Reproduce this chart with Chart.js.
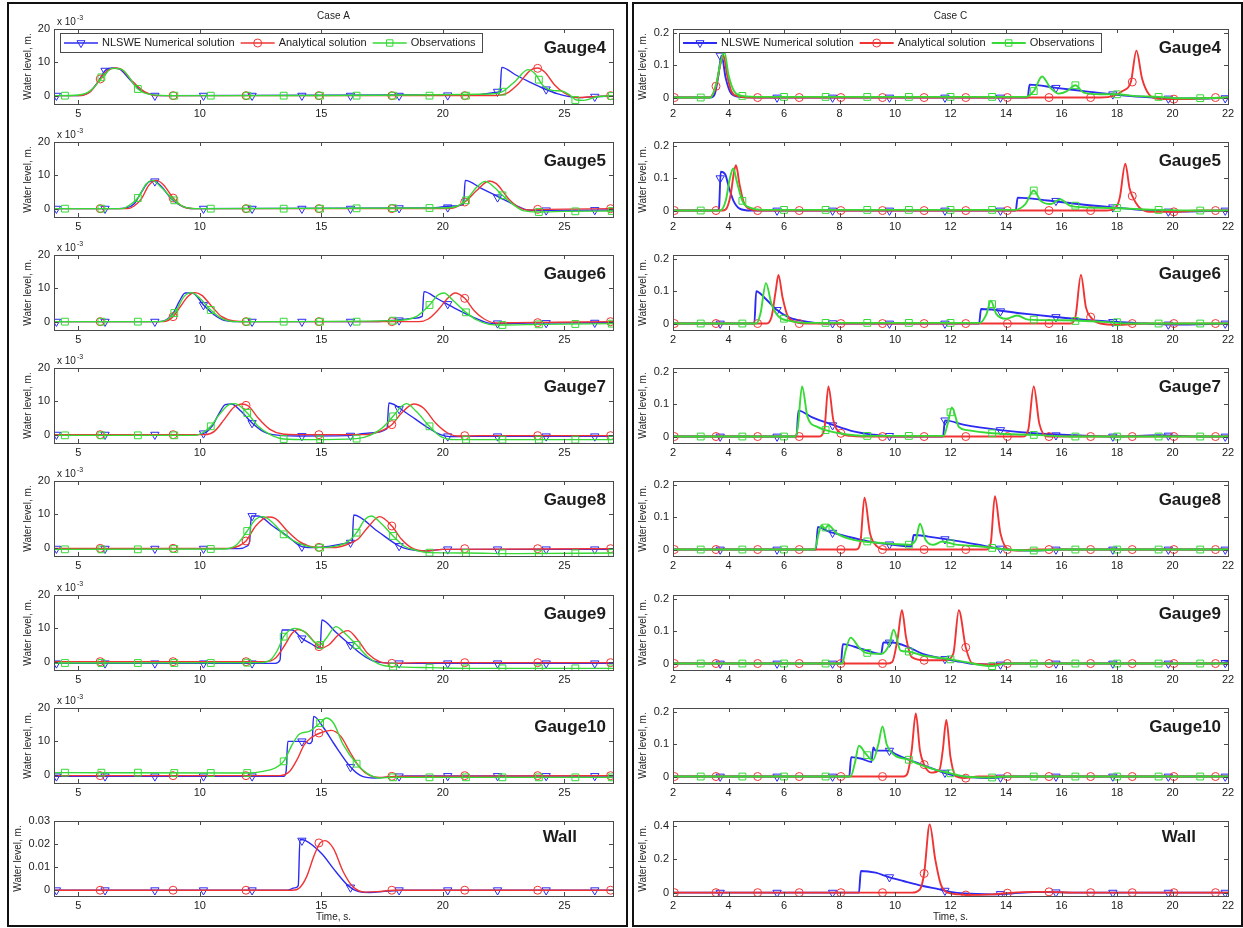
<!DOCTYPE html>
<html>
<head>
<meta charset="utf-8">
<script src="https://cdn.jsdelivr.net/npm/chart.js@4.4.1/dist/chart.umd.min.js"></script>
<style>
  html, body { margin: 0; padding: 0; background: #fff; }
  body { width: 1243px; height: 928px; position: relative; overflow: hidden; }
  .panel { position: absolute; border: 2px solid #111; box-sizing: border-box; }
  canvas { position: absolute; }
</style>
</head>
<body>
<div class="panel" style="left:7px;top:2px;width:621px;height:925px"></div>
<div class="panel" style="left:632px;top:2px;width:611px;height:925px"></div>
<script>
// ---------- axis ticks ----------
const xTicksA = [5, 10, 15, 20, 25];
const xTicksC = [2, 4, 6, 8, 10, 12, 14, 16, 18, 20, 22];
const yTicksA = [0, 10, 20];            // x 10^-3 m
const yTicksAWall = [0, 0.01, 0.02, 0.03];
const yTicksC = [0, 0.1, 0.2];
const yTicksCWall = [0, 0.2, 0.4];

// ---------- marker times (s) ----------
const mkA_num = [4.1, 6.1, 8.15, 10.15, 12.15, 14.2, 16.2, 18.2, 20.2, 22.25, 24.25, 26.25];
const mkA_ana = [5.9, 8.9, 11.9, 14.9, 17.9, 20.9, 23.9, 26.9];
const mkA_obs = [4.45, 5.95, 7.45, 8.95, 10.45, 11.95, 13.45, 14.95, 16.45, 17.95, 19.45, 20.95, 22.45, 23.95, 25.45, 26.95];
const mkC_num = [3.7, 5.75, 7.75, 9.8, 11.8, 13.8, 15.8, 17.85, 19.85, 21.9];
const mkC_ana = [2.05, 3.55, 5.05, 6.55, 8.05, 9.55, 11.05, 12.55, 14.05, 15.55, 17.05, 18.55, 20.05, 21.55];
const mkC_obs = [3.0, 4.5, 6.0, 7.5, 9.0, 10.5, 12.0, 13.5, 15.0, 16.5, 18.0, 19.5, 21.0];

// ---------- Case A (gauges in 10^-3 m, wall in m) ----------
const A4_num = [[4,0],[5,0],[5.4,0.8],[5.8,4],[6.1,7.5],[6.4,8.3],[6.7,8],[7.1,5],[7.5,2],[8,0.3],[8.6,0],[21.5,0.3],[22.2,1],[22.35,1.3],[22.42,8.5],[23,6.2],[23.6,4],[24.2,2],[24.7,0.6],[25.2,-0.3],[25.6,-0.6],[26.2,-0.3],[27,-0.1]];
const A4_ana = [[4,0],[5,0],[5.5,1.2],[5.9,5],[6.2,7.5],[6.5,8.3],[6.8,7.8],[7.2,4.5],[7.7,1.3],[8.3,0],[22,0],[22.6,0.6],[23.1,3.5],[23.6,7.6],[23.9,8.3],[24.2,7],[24.6,3.2],[25,0.8],[25.5,-0.6],[26,-0.4],[27,0]];
const A4_obs = [[4,0],[5,0.2],[5.5,1.5],[6,5.5],[6.4,8.2],[6.8,7.8],[7.45,2],[8,0.3],[9,0],[22,0.5],[22.45,1.2],[23,4.5],[23.5,7.8],[23.8,6.5],[24.1,3.2],[24.5,1.6],[24.9,1.4],[25.2,0.3],[25.5,-1.3],[25.8,-1.4],[26.3,-0.4],[27,0]];
const A4_num_mk = [0, 7.5, 0, 0, 0, 0, 0, 0, 0.1, 1.2, 1.9, -0.3];
const A4_ana_mk = [5, 0, 0, 0, 0, 0, 8.2, 0];
const A4_obs_mk = [0, 5.5, 2, 0, 0, 0, 0, 0, 0, 0, 0, 0, 1.2, 4.8, -1.3, -0.1];

const A5_num = [[4,0],[6.5,0],[7,0.3],[7.3,1.5],[7.6,5],[7.9,8],[8.1,8.3],[8.4,6.8],[8.8,3.2],[9.2,1],[9.7,0],[19.5,0.2],[20.4,0.8],[20.85,1.3],[20.92,8.5],[21.6,6],[22.3,3.5],[23,1],[23.5,-0.4],[24.2,-0.5],[27,-0.4]];
const A5_ana = [[4,0],[7,0],[7.3,0.8],[7.6,3],[7.9,7],[8.2,8.5],[8.5,7.2],[8.9,3.2],[9.3,0.6],[9.8,0],[20.3,0],[20.9,2],[21.4,5.5],[21.9,8.3],[22.2,7.5],[22.7,3],[23.1,0.5],[23.5,-0.4],[24.3,-0.2],[27,0]];
const A5_obs = [[4,0],[6.8,0],[7.1,1],[7.45,3.2],[7.8,7.5],[8.05,8.5],[8.4,6.5],[8.95,2.5],[9.4,0.4],[10,0],[20,0.2],[20.6,0.8],[20.95,2.5],[21.4,6.5],[21.75,8.2],[22.1,6.5],[22.45,4],[22.9,1.2],[23.3,-0.6],[23.95,-1],[25,-0.8],[27,-0.7]];
const A5_num_mk = [0, 0, 8.2, 0, 0, 0, 0, 0.15, 0.4, 3.4, -0.5, -0.4];
const A5_ana_mk = [0, 3.2, 0, 0, 0, 2, -0.2, 0];
const A5_obs_mk = [0, 0, 3.2, 2.5, 0, 0, 0, 0, 0.1, 0.15, 0.2, 2.5, 4, -1, -0.8, -0.7];

const A6_num = [[4,0],[8.2,0],[8.6,0.5],[8.9,2.5],[9.15,6],[9.4,8.6],[9.7,8.6],[10.15,5],[10.6,2],[11,0.4],[11.6,0],[17,0],[18,0.4],[18.8,1],[19.15,1.6],[19.22,9],[19.8,6.8],[20.5,4],[21.2,1.5],[21.8,-0.3],[22.3,-0.6],[23.5,-0.4],[27,-0.3]];
const A6_ana = [[4,0],[8.5,0],[8.9,1.5],[9.2,4.5],[9.5,7.5],[9.8,8.7],[10.1,7.8],[10.5,4.5],[10.9,1.5],[11.4,0.2],[12,0],[19,0],[19.4,0.8],[19.8,3.5],[20.2,7],[20.5,8.6],[20.9,7],[21.3,3.2],[21.7,0.8],[22.2,-0.4],[23,-0.3],[27,0]];
const A6_obs = [[4,0],[8.3,0],[8.7,0.8],[9.0,3],[9.35,7.5],[9.65,8.7],[10,7],[10.45,3.5],[10.9,1],[11.5,0],[18,0.3],[18.9,1.5],[19.45,5],[19.8,8],[20.05,8.6],[20.4,6.5],[20.95,2.8],[21.4,0.5],[21.9,-0.8],[22.45,-1],[24,-0.8],[27,-0.6]];
const A6_num_mk = [0, 0, 0, 5, 0, 0, 0, 0.4, 5.3, -0.5, -0.4, -0.3];
const A6_ana_mk = [0, 1.5, 0, 0, 0, 7, -0.3, 0];
const A6_obs_mk = [0, 0, 0, 2.6, 3.5, 0, 0, 0, 0, 0.3, 5, 2.8, -1, -0.8, -0.7, -0.6];

const A7_num = [[4,0],[9.8,0],[10.2,0.5],[10.5,2.5],[10.8,6.5],[11.05,9],[11.3,9.2],[11.7,7],[12.15,3.5],[12.6,1],[13,0],[14,-0.4],[16,-0.3],[17,0.5],[17.7,1.8],[17.78,9.5],[18.5,6.5],[19.3,2.5],[19.9,0],[20.3,-0.6],[21,-0.5],[27,-0.5]];
const A7_ana = [[4,0],[10.2,0],[10.6,1],[11,4.5],[11.4,8.2],[11.7,9.2],[12.0,8.6],[12.4,5],[12.9,1.5],[13.4,0.2],[14,0],[16.8,0],[17.4,1],[17.9,3],[18.3,6.5],[18.8,9.2],[19.2,8],[19.7,3.5],[20.2,0.5],[20.6,-0.4],[21.5,-0.3],[27,-0.3]];
const A7_obs = [[4,-0.2],[9.8,-0.2],[10.1,0.5],[10.45,2.5],[10.8,6],[11.2,9],[11.45,9.3],[11.95,6.5],[12.4,2.5],[12.9,0],[13.45,-1.3],[14.5,-1.5],[16.45,-1.2],[17,-0.2],[17.5,2],[17.95,5.5],[18.3,8.5],[18.5,9.3],[18.9,7],[19.45,2.5],[19.9,-0.5],[20.5,-1.5],[22,-1.5],[27,-1.5]];
const A7_num_mk = [0, 0, 0, 0.4, 3.5, -0.4, -0.3, 7.7, -0.5, -0.5, -0.5, -0.5];
const A7_ana_mk = [0, 0, 8.8, 0, 3, -0.3, -0.3, -0.3];
const A7_obs_mk = [-0.2, -0.2, -0.2, -0.2, 2.5, 6.5, -1.3, -1.4, -1.2, 5.5, 2.5, -1.5, -1.5, -1.5, -1.5, -1.5];

const A8_num = [[4,-0.3],[11.6,-0.3],[11.95,0.5],[12.05,2],[12.12,9.5],[12.4,9.5],[13,6.5],[13.6,3.5],[14.2,0.3],[14.6,0],[15.3,0.4],[16.2,1.5],[16.27,1.8],[16.33,9.8],[17.3,5],[18.2,0.5],[18.6,-0.5],[19.3,-1],[20,-0.5],[27,-0.5]];
const A8_ana = [[4,-0.2],[11.2,-0.2],[11.6,0.5],[11.9,2],[12.3,6.5],[12.8,9.2],[13.1,8.8],[13.6,5],[14.1,1.8],[14.6,0.3],[15.5,0],[16,0.8],[16.5,2.5],[16.9,6],[17.4,9.3],[17.9,6.5],[18.3,2.5],[18.7,0],[19.3,-1],[20,-0.5],[27,-0.3]];
const A8_obs = [[4,-0.5],[11,-0.4],[11.5,0.8],[11.95,5],[12.3,8.5],[12.6,9.3],[13,7.5],[13.45,4],[14,1.5],[14.5,0.3],[15,0],[15.7,0.6],[16.1,1.8],[16.45,4.5],[16.8,8.5],[17.05,9.5],[17.5,7],[17.95,3.5],[18.4,0.5],[18.9,-0.8],[19.45,-1.5],[21,-1.6],[23,-1.8],[27,-1.6]];
const A8_num_mk = [-0.3, -0.3, -0.3, -0.3, 9.5, 0.3, 1.5, 0.5, -0.5, -0.5, -0.5, -0.5];
const A8_ana_mk = [-0.2, -0.2, 2, 0.1, 6.5, -0.3, -0.3, -0.3];
const A8_obs_mk = [-0.5, -0.5, -0.5, -0.4, -0.4, 5, 4, 0, 4.5, 3.5, -1.5, -1.6, -1.7, -1.8, -1.7, -1.6];

const A9_num = [[4,-0.5],[13.1,-0.5],[13.3,0.5],[13.38,9.5],[13.8,9.5],[14.2,7],[14.6,5.3],[14.95,4],[15.02,12.5],[15.6,8.8],[16.2,5],[16.7,2],[17.1,0.3],[17.5,-0.3],[18.2,-0.5],[27,-0.5]];
const A9_ana = [[4,0],[12.7,0],[13.1,1],[13.5,5],[13.8,8.5],[14.05,9.6],[14.35,8.8],[14.7,6],[15.0,4.2],[15.3,5],[15.7,8],[16.1,9.3],[16.5,6.5],[16.9,2.5],[17.4,0],[17.9,-0.5],[19,-0.3],[27,-0.3]];
const A9_obs = [[4,-0.4],[12.5,-0.3],[12.9,0.5],[13.2,3.5],[13.45,7.5],[13.9,10],[14.3,9],[14.7,6],[14.95,5],[15.2,7],[15.6,10.5],[15.9,9],[16.45,5],[16.9,1.5],[17.4,-0.8],[17.95,-1.5],[19.5,-1.8],[21,-2],[27,-2]];
const A9_num_mk = [-0.5, -0.5, -0.5, -0.5, -0.5, 7, 5, -0.5, -0.5, -0.5, -0.5, -0.5];
const A9_ana_mk = [0, 0, 0, 4.5, -0.5, -0.3, -0.3, -0.3];
const A9_obs_mk = [-0.4, -0.4, -0.4, -0.4, -0.4, -0.3, 7.5, 5, 5, -1.5, -1.8, -2, -2, -2, -2, -2];

const A10_num = [[4,-0.5],[13.45,-0.5],[13.55,1],[13.62,10],[14.3,10],[14.5,9.3],[14.62,10],[14.68,17.5],[15.1,14],[15.5,9.5],[16.2,2.3],[16.6,-0.2],[17.2,-1],[17.8,-0.7],[18.5,-0.4],[27,-0.4]];
const A10_ana = [[4,-0.3],[13.3,-0.3],[13.7,1],[14.0,4.5],[14.3,9],[14.6,11.2],[14.95,12.5],[15.4,13.3],[15.8,11.5],[16.2,6.5],[16.6,2],[17.0,-0.3],[17.4,-0.8],[18,-0.5],[27,-0.3]];
const A10_obs = [[4,0.6],[12,0.5],[12.6,1],[13.1,2],[13.45,4],[13.8,9],[14.1,12.2],[14.5,13],[14.95,15.5],[15.2,17],[15.5,15.5],[15.9,9],[16.45,3.3],[16.9,0.3],[17.4,-1],[18,-0.8],[27,-0.8]];
const A10_num_mk = [-0.5, -0.5, -0.5, -0.5, -0.5, 10, 2.3, -0.5, -0.4, -0.4, -0.4, -0.4];
const A10_ana_mk = [-0.3, -0.3, -0.3, 12.5, -0.5, -0.3, -0.3, -0.3];
const A10_obs_mk = [0.6, 0.6, 0.6, 0.5, 0.5, 0.5, 4, 15.5, 3.3, -0.8, -0.8, -0.8, -0.8, -0.8, -0.8, -0.8];

const AW_num = [[4,0],[13.6,0],[13.9,0.001],[14.05,0.002],[14.12,0.022],[14.35,0.0215],[15,0.016],[15.6,0.008],[16.1,0.002],[16.5,-0.0005],[17,-0.001],[17.6,-0.0005],[18.3,0],[27,0]];
const AW_ana = [[4,0],[13.8,0],[14.1,0.001],[14.4,0.006],[14.7,0.015],[14.95,0.0205],[15.15,0.0215],[15.5,0.018],[15.9,0.008],[16.3,0.0015],[16.8,-0.0008],[17.3,-0.0006],[18,0],[27,0]];
const AW_num_mk = [0, 0, 0, 0, 0, 0.0215, 0.0012, 0, 0, 0, 0, 0];
const AW_ana_mk = [0, 0, 0, 0.0205, 0, 0, 0, 0];

// ---------- Case C (m) ----------
const C4_num = [[2,0],[3.35,0],[3.5,0.01],[3.62,0.06],[3.75,0.13],[3.9,0.06],[4.1,0.012],[4.4,0.002],[5,0],[14.78,0],[14.85,0.04],[15.8,0.03],[16.8,0.02],[17.8,0.01],[18.6,0.004],[19.3,0],[19.8,-0.003],[21,-0.003],[22,0]];
const C4_ana = [[2,0],[3.3,0],[3.45,0.012],[3.55,0.035],[3.7,0.1],[3.82,0.13],[3.95,0.07],[4.1,0.02],[4.35,0.004],[4.7,0],[17.4,0],[17.9,0.006],[18.2,0.02],[18.5,0.048],[18.7,0.145],[18.9,0.06],[19.15,0.01],[19.5,-0.004],[20.1,-0.005],[21,-0.003],[22,0]];
const C4_obs = [[2,0],[3.35,0],[3.55,0.04],[3.72,0.11],[3.85,0.14],[4.0,0.07],[4.2,0.02],[4.5,0.005],[5.2,0.002],[14.7,0.002],[15.0,0.02],[15.3,0.065],[15.6,0.03],[15.9,0.012],[16.2,0.02],[16.5,0.038],[16.8,0.015],[17.4,0.01],[18.0,0.01],[18.6,0.005],[19.5,0.002],[20.2,-0.002],[21,-0.002],[22,0]];
const C4_num_mk = [0.13, 0, 0, 0, 0, 0, 0.03, 0.01, -0.003, -0.002];
const C4_ana_mk = [0, 0.035, 0, 0, 0, 0, 0, 0, 0, 0, 0, 0.048, -0.005, 0];
const C4_obs_mk = [0, 0.005, 0.002, 0.002, 0.002, 0.002, 0.002, 0.002, 0.02, 0.038, 0.01, 0.002, -0.002];

const C5_num = [[2,0],[3.6,0],[3.66,0.01],[3.72,0.12],[3.88,0.112],[4.02,0.07],[4.18,0.03],[4.4,0.006],[4.8,0],[14.35,0],[14.42,0.04],[15.5,0.031],[16.6,0.02],[17.8,0.01],[18.6,0.004],[19.3,0],[20,-0.003],[22,0]];
const C5_ana = [[2,0],[3.8,0],[3.95,0.01],[4.08,0.05],[4.2,0.12],[4.27,0.14],[4.4,0.08],[4.55,0.025],[4.8,0.004],[5.2,0],[17.6,0],[17.95,0.008],[18.1,0.04],[18.3,0.145],[18.45,0.07],[18.55,0.045],[18.8,0.01],[19.2,-0.004],[20,-0.004],[21,0],[22,0]];
const C5_obs = [[2,0],[3.7,0],[3.9,0.03],[4.05,0.1],[4.17,0.13],[4.3,0.09],[4.5,0.03],[4.8,0.008],[5.3,0.002],[14.3,0.002],[14.7,0.02],[15.0,0.062],[15.25,0.03],[15.6,0.02],[15.95,0.035],[16.3,0.015],[16.8,0.01],[17.8,0.008],[18.6,0.005],[19.5,0.002],[21,0],[22,0]];
const C5_num_mk = [0.1, 0, 0, 0, 0, 0, 0.03, 0.01, -0.003, 0];
const C5_ana_mk = [0, 0, 0, 0, 0, 0, 0, 0, 0, 0, 0, 0.045, -0.004, 0];
const C5_obs_mk = [0, 0.03, 0.002, 0.002, 0.002, 0.002, 0.002, 0.002, 0.062, 0.015, 0.008, 0.002, 0];

const C6_num = [[2,0],[4.93,0],[5.0,0.1],[5.3,0.08],[5.7,0.045],[6.2,0.018],[6.8,0.006],[7.5,0],[13.03,0],[13.1,0.045],[14.5,0.032],[15.8,0.02],[17,0.01],[18,0.005],[19,0],[20,-0.003],[22,0]];
const C6_ana = [[2,0],[5.35,0],[5.55,0.02],[5.7,0.1],[5.8,0.15],[5.95,0.08],[6.15,0.02],[6.45,0.004],[6.8,0],[16.3,0],[16.5,0.02],[16.7,0.15],[16.88,0.05],[17.05,0.02],[17.4,0],[18,-0.004],[19,0],[22,0]];
const C6_obs = [[2,0],[5.0,0],[5.15,0.03],[5.35,0.125],[5.55,0.06],[5.8,0.022],[6.2,0.008],[6.8,0.002],[13.05,0.002],[13.3,0.03],[13.45,0.07],[13.65,0.03],[14.0,0.015],[14.4,0.025],[14.8,0.012],[16,0.01],[17.5,0.005],[18.5,0],[22,0]];
const C6_num_mk = [0, 0.042, 0.001, 0, 0, 0.038, 0.02, 0.005, -0.003, 0];
const C6_ana_mk = [0, 0, 0, 0, 0, 0, 0, 0, 0, 0, 0.02, 0, 0, 0];
const C6_obs_mk = [0, 0, 0.015, 0.002, 0.002, 0.002, 0.002, 0.06, 0.012, 0.008, 0.004, 0, 0];

const C7_num = [[2,0],[6.45,0],[6.52,0.08],[7.0,0.06],[7.8,0.035],[8.5,0.016],[9.2,0.006],[10,0],[11.73,0],[11.8,0.05],[12.5,0.036],[13.8,0.02],[15,0.01],[16.5,0.004],[18,0],[19.5,0.004],[21,0],[22,0]];
const C7_ana = [[2,0],[7.25,0],[7.45,0.02],[7.6,0.155],[7.78,0.05],[8.05,0.01],[8.4,0.002],[8.8,0],[14.6,0],[14.8,0.02],[15.0,0.155],[15.2,0.04],[15.5,0],[22,0]];
const C7_obs = [[2,0],[6.4,0],[6.5,0.03],[6.65,0.155],[6.85,0.06],[7.2,0.03],[7.5,0.02],[8,0.01],[9,0.002],[11.75,0.002],[11.9,0.04],[12.05,0.09],[12.3,0.03],[12.6,0.02],[13.5,0.01],[15,0.005],[16.5,0],[22,0]];
const C7_num_mk = [0, 0, 0.035, 0.002, 0.05, 0.02, 0.004, 0, 0.003, 0];
const C7_ana_mk = [0, 0, 0, 0, 0.01, 0, 0, 0, 0, 0, 0, 0, 0, 0];
const C7_obs_mk = [0, 0, 0, 0.02, 0.002, 0.002, 0.075, 0.01, 0.005, 0, 0, 0, 0];

const C8_num = [[2,0],[7.15,0],[7.22,0.07],[7.6,0.056],[8.3,0.04],[9,0.026],[9.8,0.016],[10.6,0.01],[10.67,0.045],[11.2,0.04],[12,0.03],[13,0.015],[13.6,0.005],[14,0],[15,-0.003],[16,0],[22,0]];
const C8_ana = [[2,0],[8.6,0],[8.75,0.02],[8.9,0.16],[9.1,0.05],[9.35,0.01],[9.7,0],[13.3,0],[13.45,0.02],[13.6,0.165],[13.8,0.05],[14.1,0],[14.5,-0.003],[15,0],[22,0]];
const C8_obs = [[2,0],[7.1,0],[7.25,0.05],[7.35,0.075],[7.48,0.065],[7.6,0.075],[7.9,0.05],[8.5,0.03],[9.5,0.02],[10.5,0.015],[10.75,0.03],[10.9,0.08],[11.1,0.03],[11.4,0.015],[11.7,0.025],[12.2,0.015],[13,0.01],[14,0],[15,-0.003],[16,0],[22,0]];
const C8_num_mk = [0, 0, 0.052, 0.016, 0.032, 0.003, 0, 0, 0, 0];
const C8_ana_mk = [0, 0, 0, 0, 0, 0, 0, 0, 0, 0, 0, 0, 0, 0];
const C8_obs_mk = [0, 0, 0, 0.068, 0.025, 0.015, 0.019, 0.005, -0.003, 0, 0, 0, 0];

const C9_num = [[2,0],[8.05,0],[8.12,0.06],[8.8,0.045],[9.5,0.03],[9.58,0.065],[9.9,0.065],[10.5,0.05],[11,0.03],[11.8,0.014],[12.2,0.008],[12.7,0],[13.5,-0.003],[14,0],[21.5,0],[22,0.005]];
const C9_ana = [[2,0],[9.7,0],[9.9,0.005],[10.1,0.08],[10.25,0.165],[10.4,0.08],[10.6,0.02],[11.05,0.01],[11.8,0.01],[12.1,0.03],[12.3,0.165],[12.55,0.05],[12.8,0],[13.5,-0.003],[14,0],[22,0]];
const C9_obs = [[2,0],[8.1,0],[8.22,0.04],[8.4,0.08],[8.7,0.05],[8.95,0.033],[9.5,0.03],[9.8,0.06],[9.95,0.105],[10.2,0.04],[10.45,0.037],[11,0.025],[12,0.013],[12.5,0.005],[13.5,-0.008],[14,0],[22,0]];
const C9_num_mk = [0, 0, 0, 0.065, 0.014, -0.003, 0, 0, 0, 0.002];
const C9_ana_mk = [0, 0, 0, 0, 0, 0, 0.01, 0.05, 0, 0, 0, 0, 0, 0];
const C9_obs_mk = [0, 0, 0, 0, 0.033, 0.037, 0.013, -0.008, 0, 0, 0, 0, 0];

const C10_num = [[2,0],[8.35,0],[8.42,0.06],[8.8,0.055],[9.15,0.045],[9.22,0.09],[9.3,0.08],[9.8,0.08],[10,0.07],[10.8,0.042],[11.5,0.02],[12,0.006],[12.5,0],[13.5,-0.005],[14.2,0],[22,0]];
const C10_ana = [[2,0],[10.3,0],[10.45,0.01],[10.6,0.08],[10.75,0.195],[10.9,0.08],[11.05,0.037],[11.3,0.012],[11.6,0.02],[11.72,0.08],[11.85,0.175],[12.0,0.06],[12.2,0],[12.5,-0.005],[13,0],[22,0]];
const C10_obs = [[2,0],[8.4,0],[8.55,0.04],[8.7,0.095],[8.95,0.07],[9.2,0.05],[9.4,0.1],[9.55,0.155],[9.7,0.1],[10,0.065],[10.5,0.052],[10.8,0.04],[11.5,0.02],[12,0.01],[12.5,0],[13.5,-0.003],[14,0],[22,0]];
const C10_num_mk = [0, 0, 0, 0.08, 0.012, -0.003, 0, 0, 0, 0];
const C10_ana_mk = [0, 0, 0, 0, 0, 0, 0.037, -0.005, 0, 0, 0, 0, 0, 0];
const C10_obs_mk = [0, 0, 0, 0, 0.066, 0.052, 0.01, -0.003, 0, 0, 0, 0, 0];

const CW_num = [[2,0],[8.7,0],[8.77,0.13],[9.3,0.12],[9.75,0.095],[10.3,0.07],[11,0.04],[11.6,0.02],[12,0.005],[12.5,-0.005],[13.5,-0.01],[14.2,-0.005],[15,0.003],[15.5,0.003],[16.5,0],[22,0]];
const CW_ana = [[2,0],[10.6,0],[10.9,0.02],[11.05,0.115],[11.25,0.41],[11.45,0.2],[11.65,0.05],[11.9,0],[12.3,-0.01],[12.55,-0.014],[13.5,-0.01],[14,-0.003],[15,0.005],[15.5,0.005],[16.5,0],[22,0]];
const CW_num_mk = [0, 0, 0, 0.093, 0.012, -0.008, 0.002, 0, 0, 0];
const CW_ana_mk = [0, 0, 0, 0, 0, 0, 0.115, -0.014, -0.003, 0.005, 0, 0, 0, 0];

// ---------- labels & styling ----------
const legendLabels = { num: 'NLSWE Numerical solution', ana: 'Analytical solution', obs: 'Observations' };
const COLORS = { num: '#2b2bf2', ana: '#f03434', obs: '#36d936' };
const SHAPES = { num: 'triangle', ana: 'circle', obs: 'rect' };
const FONT = '"Liberation Sans", Arial, Helvetica, sans-serif';
const TEXT = '#1c1c1c';
const AXIS = '#4a4a4a';

const ROW0 = 29, ROWSTEP = 113.1, PLOT_H = 75, PAD_TOP = 26;

const panels = [
  {
    left: 10, width: 614, plotL: 54, plotR: 613, yTitleX: 18, yTitleXWall: 8,
    xMin: 4, xMax: 27, xTicks: xTicksA, title: 'Case A', lw: 1.4, wallInset: 36,
    mk: { num: mkA_num, ana: mkA_ana, obs: mkA_obs },
    rows: [
      { name: 'Gauge4',  num: A4_num,  ana: A4_ana,  obs: A4_obs,  mkv: { num: A4_num_mk,  ana: A4_ana_mk,  obs: A4_obs_mk } },
      { name: 'Gauge5',  num: A5_num,  ana: A5_ana,  obs: A5_obs,  mkv: { num: A5_num_mk,  ana: A5_ana_mk,  obs: A5_obs_mk } },
      { name: 'Gauge6',  num: A6_num,  ana: A6_ana,  obs: A6_obs,  mkv: { num: A6_num_mk,  ana: A6_ana_mk,  obs: A6_obs_mk } },
      { name: 'Gauge7',  num: A7_num,  ana: A7_ana,  obs: A7_obs,  mkv: { num: A7_num_mk,  ana: A7_ana_mk,  obs: A7_obs_mk } },
      { name: 'Gauge8',  num: A8_num,  ana: A8_ana,  obs: A8_obs,  mkv: { num: A8_num_mk,  ana: A8_ana_mk,  obs: A8_obs_mk } },
      { name: 'Gauge9',  num: A9_num,  ana: A9_ana,  obs: A9_obs,  mkv: { num: A9_num_mk,  ana: A9_ana_mk,  obs: A9_obs_mk } },
      { name: 'Gauge10', num: A10_num, ana: A10_ana, obs: A10_obs, mkv: { num: A10_num_mk, ana: A10_ana_mk, obs: A10_obs_mk } },
      { name: 'Wall',    num: AW_num,  ana: AW_ana,  obs: null,    mkv: { num: AW_num_mk,  ana: AW_ana_mk } }
    ],
    yMin: -2.5, yMax: 20, yTicks: yTicksA, exp: true,
    wallMin: -0.0025, wallMax: 0.03, wallTicks: yTicksAWall
  },
  {
    left: 636, width: 603, plotL: 673, plotR: 1228, yTitleX: 7, yTitleXWall: 7,
    xMin: 2, xMax: 22, xTicks: xTicksC, title: 'Case C', lw: 1.9, wallInset: 32,
    mk: { num: mkC_num, ana: mkC_ana, obs: mkC_obs },
    rows: [
      { name: 'Gauge4',  num: C4_num,  ana: C4_ana,  obs: C4_obs,  mkv: { num: C4_num_mk,  ana: C4_ana_mk,  obs: C4_obs_mk } },
      { name: 'Gauge5',  num: C5_num,  ana: C5_ana,  obs: C5_obs,  mkv: { num: C5_num_mk,  ana: C5_ana_mk,  obs: C5_obs_mk } },
      { name: 'Gauge6',  num: C6_num,  ana: C6_ana,  obs: C6_obs,  mkv: { num: C6_num_mk,  ana: C6_ana_mk,  obs: C6_obs_mk } },
      { name: 'Gauge7',  num: C7_num,  ana: C7_ana,  obs: C7_obs,  mkv: { num: C7_num_mk,  ana: C7_ana_mk,  obs: C7_obs_mk } },
      { name: 'Gauge8',  num: C8_num,  ana: C8_ana,  obs: C8_obs,  mkv: { num: C8_num_mk,  ana: C8_ana_mk,  obs: C8_obs_mk } },
      { name: 'Gauge9',  num: C9_num,  ana: C9_ana,  obs: C9_obs,  mkv: { num: C9_num_mk,  ana: C9_ana_mk,  obs: C9_obs_mk } },
      { name: 'Gauge10', num: C10_num, ana: C10_ana, obs: C10_obs, mkv: { num: C10_num_mk, ana: C10_ana_mk, obs: C10_obs_mk } },
      { name: 'Wall',    num: CW_num,  ana: CW_ana,  obs: null,    mkv: { num: CW_num_mk,  ana: CW_ana_mk } }
    ],
    yMin: -0.02, yMax: 0.212, yTicks: yTicksC, exp: false,
    wallMin: -0.02, wallMax: 0.43, wallTicks: yTicksCWall
  }
];

// ---------- marker glyphs used by the in-plot legend ----------
function glyph(ctx, shape, x, y, color) {
  ctx.save();
  ctx.strokeStyle = color; ctx.lineWidth = 1;
  ctx.beginPath();
  if (shape === 'triangle') {
    const r = 4.6;
    ctx.moveTo(x - r * 0.866, y - r * 0.5);
    ctx.lineTo(x + r * 0.866, y - r * 0.5);
    ctx.lineTo(x, y + r);
    ctx.closePath();
  } else if (shape === 'circle') {
    ctx.arc(x, y, 4, 0, Math.PI * 2);
  } else {
    ctx.rect(x - 3.2, y - 3.2, 6.4, 6.4);
  }
  ctx.stroke();
  ctx.restore();
}

// ---------- axes box, inward ticks and annotations ----------
const decor = {
  id: 'decor',
  afterDraw(chart, args, o) {
    const { ctx, chartArea: a, scales: { x, y } } = chart;
    ctx.save();
    ctx.strokeStyle = AXIS; ctx.lineWidth = 1;
    ctx.beginPath();
    for (const v of o.xTicks) {
      const px = Math.round(x.getPixelForValue(v)) + 0.5;
      ctx.moveTo(px, a.bottom); ctx.lineTo(px, a.bottom - 4);
      ctx.moveTo(px, a.top); ctx.lineTo(px, a.top + 4);
    }
    for (const v of o.yTicks) {
      const py = Math.round(y.getPixelForValue(v)) + 0.5;
      ctx.moveTo(a.left, py); ctx.lineTo(a.left + 4, py);
      ctx.moveTo(a.right, py); ctx.lineTo(a.right - 4, py);
    }
    ctx.stroke();
    ctx.strokeRect(Math.round(a.left) + 0.5, Math.round(a.top) + 0.5,
                   Math.round(a.right - a.left), Math.round(a.bottom - a.top));

    ctx.fillStyle = TEXT;
    // y-axis title
    ctx.save();
    ctx.translate(o.yTitleX, (a.top + a.bottom) / 2);
    ctx.rotate(-Math.PI / 2);
    ctx.font = '10px ' + FONT;
    ctx.textAlign = 'center'; ctx.textBaseline = 'middle';
    ctx.fillText('Water level, m.', 0, 0);
    ctx.restore();

    // exponent label
    if (o.exp) {
      ctx.font = '10px ' + FONT;
      ctx.textAlign = 'left'; ctx.textBaseline = 'alphabetic';
      const bx = a.left + 3, by = a.top - 4;
      ctx.fillText('x 10', bx, by);
      const w = ctx.measureText('x 10').width;
      ctx.font = '7px ' + FONT;
      ctx.fillText('-3', bx + w + 1, by - 5);
    }

    // station name
    ctx.font = 'bold 17px ' + FONT;
    ctx.textAlign = 'right'; ctx.textBaseline = 'alphabetic';
    if (o.wall) ctx.fillText(o.name, a.right - o.wallInset, a.top + 21);
    else ctx.fillText(o.name, a.right - 7, a.top + 24);

    // panel title
    if (o.title) {
      ctx.font = '10px ' + FONT;
      ctx.textAlign = 'center'; ctx.textBaseline = 'middle';
      ctx.fillText(o.title, (a.left + a.right) / 2, a.top - 13);
    }
    // x-axis title
    if (o.xTitle) {
      ctx.font = '10px ' + FONT;
      ctx.textAlign = 'center'; ctx.textBaseline = 'middle';
      ctx.fillText(o.xTitle, (a.left + a.right) / 2, a.bottom + 21);
    }

    // legend box inside the first axes
    if (o.legend) {
      ctx.font = '11px ' + FONT;
      const keys = ['num', 'ana', 'obs'];
      const lineLen = 34, gapAfterLine = 4, gapAfterText = 6;
      let w = 4;
      for (const k of keys) w += lineLen + gapAfterLine + ctx.measureText(legendLabels[k]).width + gapAfterText;
      const lx = a.left + 6, ly = a.top + 4, lh = 19;
      ctx.fillStyle = '#fff';
      ctx.fillRect(lx, ly, w, lh);
      ctx.strokeStyle = AXIS; ctx.lineWidth = 1;
      ctx.strokeRect(Math.round(lx) + 0.5, Math.round(ly) + 0.5, Math.round(w), lh);
      let cx = lx + 4;
      const cy = ly + lh / 2 + 0.5;
      for (const k of keys) {
        ctx.strokeStyle = COLORS[k]; ctx.lineWidth = o.lw;
        ctx.beginPath(); ctx.moveTo(cx, cy); ctx.lineTo(cx + lineLen, cy); ctx.stroke();
        glyph(ctx, SHAPES[k], cx + lineLen / 2, cy, COLORS[k]);
        cx += lineLen + gapAfterLine;
        ctx.fillStyle = TEXT;
        ctx.textAlign = 'left'; ctx.textBaseline = 'middle';
        ctx.fillText(legendLabels[k], cx, cy);
        cx += ctx.measureText(legendLabels[k]).width + gapAfterText;
      }
    }
    ctx.restore();
  }
};

function fmt(v) { return String(+v.toFixed(3)); }

function build(panel, row, i) {
  const last = i === 7;
  const top = Math.round(ROW0 + ROWSTEP * i);
  const H = PAD_TOP + PLOT_H + (last ? 30 : 20);
  const cv = document.createElement('canvas');
  cv.width = panel.width; cv.height = H;
  cv.style.left = panel.left + 'px';
  cv.style.top = (top - PAD_TOP) + 'px';
  document.body.appendChild(cv);

  const yW = panel.plotL - panel.left;
  const padR = panel.left + panel.width - panel.plotR;
  const xH = H - PAD_TOP - PLOT_H;
  const yMin = last ? panel.wallMin : panel.yMin;
  const yMax = last ? panel.wallMax : panel.yMax;
  const yTicks = last ? panel.wallTicks : panel.yTicks;

  const datasets = [];
  for (const k of ['obs', 'ana', 'num']) {
    if (!row[k]) continue;
    const color = COLORS[k];
    datasets.push({
      data: panel.mk[k].map((t, j) => ({ x: t, y: row.mkv[k][j] })),
      showLine: false,
      pointStyle: SHAPES[k],
      pointRotation: k === 'num' ? 180 : 0,
      pointRadius: k === 'ana' ? 4 : 4.8,
      pointBorderWidth: 1,
      pointBorderColor: color,
      pointBackgroundColor: 'rgba(0,0,0,0)',
      borderColor: color
    });
    datasets.push({
      data: row[k].map(p => ({ x: p[0], y: p[1] })),
      borderColor: color,
      borderWidth: panel.lw,
      pointRadius: 0,
      cubicInterpolationMode: 'monotone',
      fill: false
    });
  }

  new Chart(cv, {
    type: 'line',
    data: { datasets },
    options: {
      responsive: false,
      animation: false,
      devicePixelRatio: 1,
      events: [],
      layout: { padding: { top: PAD_TOP, right: padR, left: 0, bottom: 0 } },
      scales: {
        x: {
          type: 'linear', min: panel.xMin, max: panel.xMax,
          afterBuildTicks: s => { s.ticks = panel.xTicks.map(v => ({ value: v })); },
          afterFit: s => { s.height = xH; s.paddingLeft = 0; s.paddingRight = 0; },
          ticks: { font: { size: 11, family: FONT }, color: TEXT, padding: 3, maxRotation: 0, autoSkip: false, callback: v => fmt(v) },
          grid: { display: false, drawTicks: false },
          border: { display: false }
        },
        y: {
          type: 'linear', min: yMin, max: yMax,
          afterBuildTicks: s => { s.ticks = yTicks.map(v => ({ value: v })); },
          afterFit: s => { s.width = yW; s.paddingTop = 0; s.paddingBottom = 0; },
          ticks: { font: { size: 11, family: FONT }, color: TEXT, padding: 4, autoSkip: false, callback: v => fmt(v) },
          grid: { display: false, drawTicks: false },
          border: { display: false }
        }
      },
      plugins: {
        legend: { display: false },
        tooltip: { enabled: false },
        decor: {
          xTicks: panel.xTicks, yTicks, name: row.name, wall: last, wallInset: panel.wallInset,
          exp: panel.exp && !last, yTitleX: last ? panel.yTitleXWall : panel.yTitleX, lw: panel.lw,
          title: i === 0 ? panel.title : null,
          xTitle: last ? 'Time, s.' : null,
          legend: i === 0
        }
      }
    },
    plugins: [decor]
  });
}

panels.forEach(p => p.rows.forEach((r, i) => build(p, r, i)));
</script>
</body>
</html>
